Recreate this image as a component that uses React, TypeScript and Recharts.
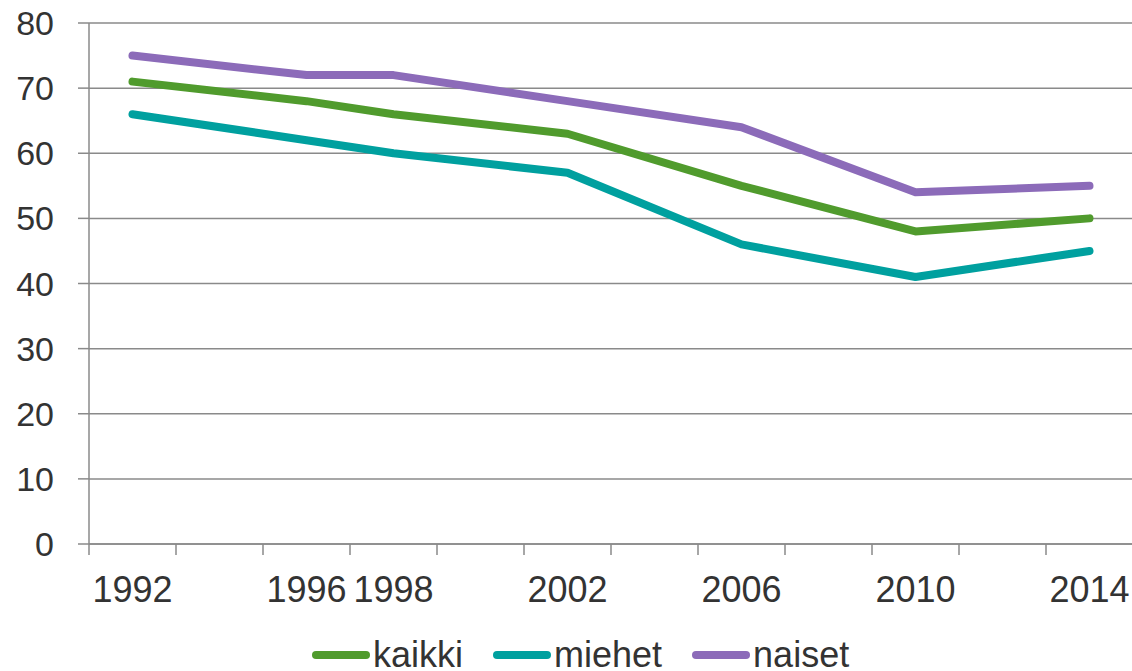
import { LineChart, Line, XAxis, YAxis, CartesianGrid, Legend } from "recharts";

const categories = ["1992", "", "1996", "1998", "", "2002", "", "2006", "", "2010", "", "2014"];
const kaikki = [71, null, 68, 66, null, 63, null, 55, null, 48, null, 50];
const miehet = [66, null, 62, 60, null, 57, null, 46, null, 41, null, 45];
const naiset = [75, null, 72, 72, null, 68, null, 64, null, 54, null, 55];
const yTicks = [0, 10, 20, 30, 40, 50, 60, 70, 80];

const FONT = '"Liberation Sans", Arial, sans-serif';
const GRAY = "#8a8a8a";
const TEXT = "#333333";

const data = categories.map((c, i) => ({ x: i, label: c, kaikki: kaikki[i], miehet: miehet[i], naiset: naiset[i] }));
const boundaries = [...categories.map((_, i) => i - 0.5), categories.length - 0.5];
const labelTicks = categories.map((c, i) => (c ? i : -1)).filter(i => i >= 0);

const EmptyTick = () => <g />;

const LegendContent = ({ payload }: { payload?: Array<{ value: string; color: string }> }) => (
  <div style={{ height: 40, position: "relative", top: 4, display: "flex", alignItems: "center", paddingLeft: 312, fontFamily: FONT, fontSize: 36, lineHeight: "40px", color: TEXT }}>
    {(payload ?? []).map(p => (
      <div key={p.value} style={{ display: "flex", alignItems: "center", marginRight: 30 }}>
        <span style={{ display: "inline-block", width: 58, height: 8, borderRadius: 4, background: p.color, marginRight: 3 }} />
        <span>{p.value}</span>
      </div>
    ))}
  </div>
);

export default function App() {
  return (
    <div style={{ position: "absolute", left: 0, top: 0, width: 1132, height: 671, overflow: "hidden", background: "#fff" }}>
      <LineChart width={1134} height={671} data={data} margin={{ top: 23, right: 1, left: 0, bottom: 0 }}>
        <CartesianGrid horizontal vertical={false} stroke={GRAY} strokeWidth={1.5} />
        <XAxis
          xAxisId="a"
          dataKey="x"
          type="number"
          domain={[-0.5, 11.5]}
          ticks={boundaries}
          interval={0}
          tick={<EmptyTick />}
          tickSize={11}
          height={11}
          axisLine={{ stroke: GRAY, strokeWidth: 1.5 }}
          tickLine={{ stroke: GRAY, strokeWidth: 1.5 }}
        />
        <XAxis
          xAxisId="b"
          dataKey="x"
          type="number"
          domain={[-0.5, 11.5]}
          ticks={labelTicks}
          interval={0}
          tickFormatter={(v: number) => categories[v] ?? ""}
          axisLine={false}
          tickLine={false}
          tickSize={0}
          tickMargin={21}
          height={76}
          tick={{ fontSize: 36, fill: TEXT, fontFamily: FONT }}
        />
        <YAxis
          domain={[0, 80]}
          ticks={yTicks}
          interval={0}
          width={89}
          tickSize={11}
          tickMargin={24}
          axisLine={{ stroke: GRAY, strokeWidth: 1.5 }}
          tickLine={{ stroke: GRAY, strokeWidth: 1.5 }}
          tick={{ fontSize: 34, fill: TEXT, fontFamily: FONT }}
        />
        <Legend verticalAlign="bottom" align="left" content={<LegendContent />} wrapperStyle={{ left: 0, width: 1132 }} />
        <Line xAxisId="a" type="linear" dataKey="kaikki" name="kaikki" stroke="#509b2d" strokeWidth={8} strokeLinecap="round" strokeLinejoin="round" dot={false} activeDot={false} connectNulls isAnimationActive={false} />
        <Line xAxisId="a" type="linear" dataKey="miehet" name="miehet" stroke="#00a09f" strokeWidth={8} strokeLinecap="round" strokeLinejoin="round" dot={false} activeDot={false} connectNulls isAnimationActive={false} />
        <Line xAxisId="a" type="linear" dataKey="naiset" name="naiset" stroke="#8c6bb9" strokeWidth={8} strokeLinecap="round" strokeLinejoin="round" dot={false} activeDot={false} connectNulls isAnimationActive={false} />
      </LineChart>
    </div>
  );
}
